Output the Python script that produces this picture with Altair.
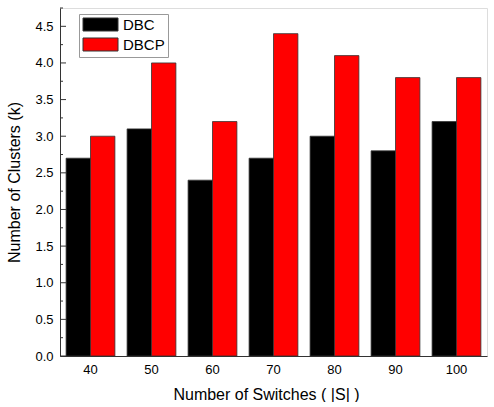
import altair as alt
import pandas as pd

switches = ["40", "50", "60", "70", "80", "90", "100"]
dbc = [2.7, 3.1, 2.4, 2.7, 3.0, 2.8, 3.2]
dbcp = [3.0, 4.0, 3.2, 4.4, 4.1, 3.8, 3.8]
series = ["DBC", "DBCP"]
colors = ["#000000", "#ff0000"]
major_ticks = [0.0, 0.5, 1.0, 1.5, 2.0, 2.5, 3.0, 3.5, 4.0, 4.5]
minor_ticks = [0.25, 0.75, 1.25, 1.75, 2.25, 2.75, 3.25, 3.75, 4.25, 4.75]

rows = []
for s, a, b in zip(switches, dbc, dbcp):
    rows.append({"switches": s, "method": "DBC", "k": a})
    rows.append({"switches": s, "method": "DBCP", "k": b})
df = pd.DataFrame(rows)

font = "Liberation Sans"
yscale = alt.Scale(domain=[0, 4.75], nice=False, zero=True)
yaxis = alt.Axis(title="Number of Clusters (k)", values=major_ticks,
                 format=".1f", ticks=False, labelPadding=7,
                 labelOverlap=False, titlePadding=12, grid=False,
                 labelFontSize=13, titleFontSize=16, titleFontWeight="normal",
                 labelColor="#000", titleColor="#000", domainColor="#333")

bars = alt.Chart(df).mark_bar(stroke="#333333", strokeWidth=0.8).encode(
    x=alt.X("switches:N", sort=switches,
            scale=alt.Scale(paddingInner=0.2, paddingOuter=0.1),
            axis=alt.Axis(title="Number of Switches ( |S| )", labelAngle=0,
                          ticks=False, labelPadding=7, titlePadding=10,
                          titleX=206,
                          labelFontSize=13, titleFontSize=16,
                          titleFontWeight="normal", labelColor="#000",
                          titleColor="#000", domainColor="#333")),
    xOffset=alt.XOffset("method:N", sort=series),
    y=alt.Y("k:Q", scale=yscale, axis=yaxis),
    color=alt.Color("method:N", sort=series,
                    scale=alt.Scale(domain=series, range=colors),
                    legend=alt.Legend(title=None, orient="none",
                                      legendX=19, legendY=6,
                                      symbolType="M-2.5,-0.93H2.5V0.93H-2.5Z",
                                      symbolSize=196, symbolStrokeColor="#333",
                                      symbolStrokeWidth=1, symbolOpacity=1,
                                      symbolOffset=11,
                                      labelFontSize=15, labelColor="#000",
                                      rowPadding=1, padding=3,
                                      strokeColor="#999", fillColor="#fff",
                                      labelOffset=15)),
)

major = alt.Chart(pd.DataFrame({"v": major_ticks})).mark_rule(
    color="#333", strokeWidth=1).encode(
    y=alt.Y("v:Q", scale=yscale, axis=yaxis), x=alt.value(0), x2=alt.value(6))
minor = alt.Chart(pd.DataFrame({"v": minor_ticks})).mark_rule(
    color="#333", strokeWidth=1).encode(
    y=alt.Y("v:Q", scale=yscale, axis=yaxis), x=alt.value(0), x2=alt.value(3))

chart = alt.layer(bars, major, minor).properties(
    width=427, height=348, padding={"left": 6, "top": 7, "right": 4, "bottom": 0}
).configure_view(stroke="#222", strokeWidth=1).configure(
    font=font)

chart.save("out.html", embed_options={"renderer": "svg", "actions": False})
